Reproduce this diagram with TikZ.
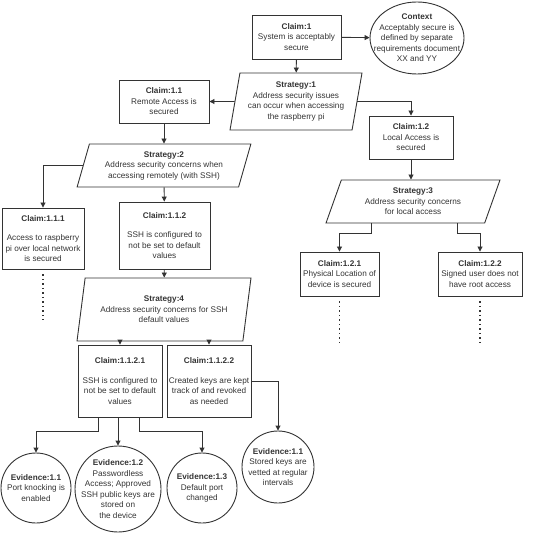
\documentclass[tikz,border=0pt]{standalone}
\usepackage{fontspec}
\setmainfont{Liberation Sans}
\usetikzlibrary{arrows.meta,calc,positioning,shapes.geometric}
\definecolor{ink}{HTML}{333333}

\begin{document}
\begin{tikzpicture}[x=1pt,y=-1pt,
  every node/.style={font=\fontsize{8.2}{10.5}\selectfont,text=ink,align=center,inner sep=1pt},
  claim/.style={draw=ink,line width=0.9pt,rectangle},
  strat/.style={draw=ink,line width=0.9pt,trapezium,trapezium stretches=true,trapezium left angle=#1,trapezium right angle=180-#1},
  evid/.style={draw=ink,line width=0.9pt,circle,inner sep=0pt},
  link/.style={ink,line width=0.9pt,-{Triangle[width=5pt,length=5pt]}},
  undev/.style={ink,line width=1.1pt,dash pattern=on 1.1pt off 3.4pt}]
\useasboundingbox (0,0) rectangle (540,534);
\node[claim,minimum width=89,minimum height=44] (c1) at (296.5,37) {\textbf{Claim:1}\\System is acceptably\\secure};
\node[draw=ink,line width=0.9pt,ellipse,minimum width=94,minimum height=72,inner sep=0pt] (ctx) at (417,38) {};
\node at (ctx) {\textbf{Context}\\Acceptably secure is\\defined by separate\\requirements document\\XX and YY};
\node[strat=78,minimum width=132,minimum height=57] (s1) at (296,101.5) {\textbf{Strategy:1}\\Address security issues\\can occur when accessing\\the raspberry pi};
\node[claim,minimum width=90,minimum height=43] (c11) at (164,101.5) {\textbf{Claim:1.1}\\Remote Access is\\secured};
\node[claim,minimum width=84,minimum height=43] (c12) at (411,137.5) {\textbf{Claim:1.2}\\Local Access is\\secured};
\node[strat=72,minimum width=174,minimum height=43] (s2) at (164,165.5) {\textbf{Strategy:2}\\Address security concerns when\\accessing remotely (with SSH)};
\node[strat=70,minimum width=174,minimum height=43] (s3) at (413,201.5) {\textbf{Strategy:3}\\Address security concerns\\for local access};
\node[claim,minimum width=82,minimum height=61] (c111) at (43,238.5) {\textbf{Claim:1.1.1}\\[9pt]Access to raspberry\\pi over local network\\is secured};
\node[claim,minimum width=91,minimum height=67] (c112) at (164.5,235.5) {\textbf{Claim:1.1.2}\\[9pt]SSH is configured to\\not be set to default\\values};
\node[claim,minimum width=79,minimum height=44] (c121) at (339.5,274) {\textbf{Claim:1.2.1}\\Physical Location of\\device is secured};
\node[claim,minimum width=84,minimum height=44] (c122) at (480,274) {\textbf{Claim:1.2.2}\\Signed user does not\\have root access};
\node[strat=77,minimum width=174,minimum height=63] (s4) at (164,309.5) {\textbf{Strategy:4}\\Address security concerns for SSH\\default values};
\node[claim,minimum width=84,minimum height=72] (c1121) at (120,381) {\textbf{Claim:1.1.2.1}\\[9pt]SSH is configured to\\not be set to default\\values};
\node[claim,minimum width=84,minimum height=72] (c1122) at (209,381) {\textbf{Claim:1.1.2.2}\\[9pt]Created keys are kept\\track of and revoked\\as needed};
\node[evid,minimum size=70] (e11) at (36,488) {};
\node at (e11) {\textbf{Evidence:1.1}\\Port knocking is\\enabled};
\node[evid,minimum size=86] (e12) at (118,489) {};
\node at (e12) {\textbf{Evidence:1.2}\\Passwordless\\Access; Approved\\SSH public keys are\\stored on\\the device};
\node[evid,minimum size=70] (e13) at (202,488) {};
\node at (e13) {\textbf{Evidence:1.3}\\Default port\\changed};
\node[evid,minimum size=72] (e14) at (278,467) {};
\node at (e14) {\textbf{Evidence:1.1}\\Stored keys are\\vetted at regular\\intervals};
\draw[link] (c1) -- (ctx);
\draw[link] (c1) -- (s1);
\draw[link] (s1) -- (c11);
\draw[link] (s1.east) -| (c12.north);
\draw[link] (c12.south) -- (c12.south |- s3.north);
\draw[link] (c11) -- (s2);
\draw[link] (s2.west) -| (c111.north);
\draw[link] (s2) -- (c112);
\draw[link] (c112) -- (s4);
\draw[link] (c1121.north |- s4.south) -- (c1121.north);
\draw[link] (c1122.north |- s4.south) -- (c1122.north);
\draw[link] (c1122.east) -| (e14.north);
\draw[link] ([xshift=-22pt]c1121.south) -- ++(0,14) -| (e11.north);
\draw[link] (c1121.south) -- (c1121.south -| e12.north) -- (e12.north);
\draw[link] ([xshift=19pt]c1121.south) -- ++(0,14) -| (e13.north);
\draw[link] ([xshift=-42pt]s3.south) -- ++(0,10) -| (c121.north);
\draw[link] ([xshift=44pt]s3.south) -- ++(0,10) -| (c122.north);
\foreach \c/\l in {c111/46,c121/42,c122/42}
  \draw[undev] ($(\c.south)+(0,5)$) -- ++(0,\l);
\end{tikzpicture}
\end{document}
